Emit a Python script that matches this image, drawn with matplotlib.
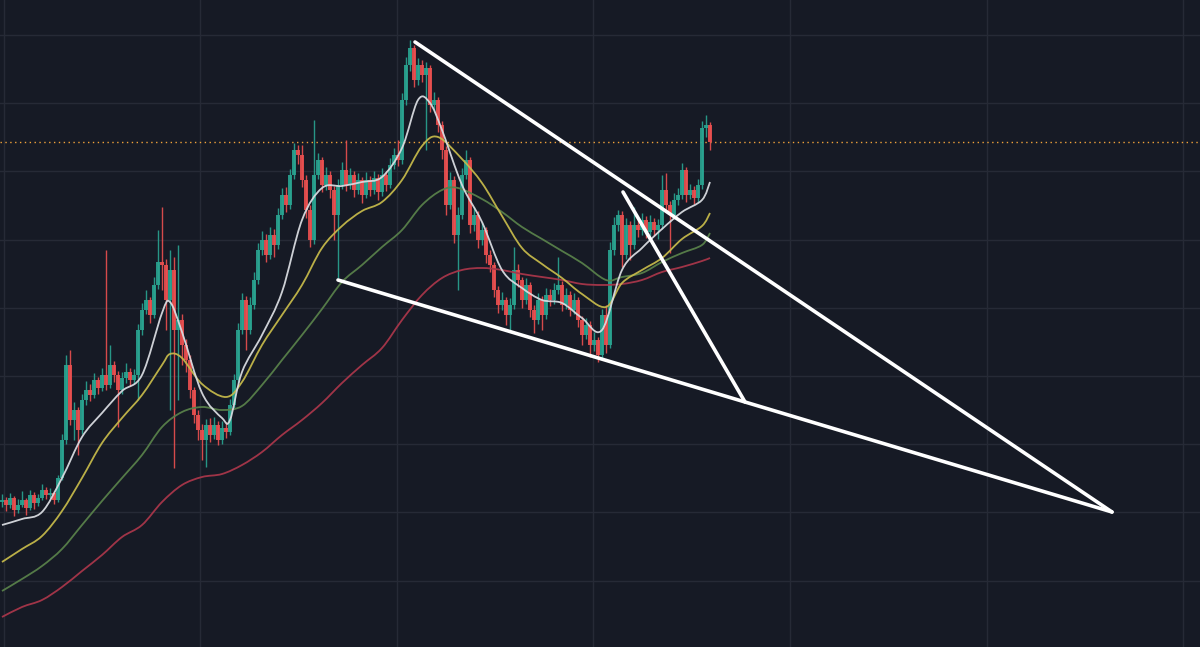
import numpy as np
import matplotlib
matplotlib.use("Agg")
import matplotlib.pyplot as plt
from matplotlib.path import Path
from matplotlib.patches import PathPatch

# ---- price data (one bar per session) ----
first_open = 14.5
closes = [
    14.7, 14.2, 14.9, 13.7, 14.2, 14.7, 13.9, 15.2, 14.4, 14.9,
    15.7, 15.2, 15.4, 14.7, 16.9, 20.7, 28.2, 22.7, 23.7, 21.7,
    24.7, 25.7, 25.2, 26.7, 25.9, 27.2, 26.2, 28.2, 27.2, 25.7,
    26.9, 27.5, 26.7, 27.2, 31.7, 33.7, 34.7, 33.2, 36.2, 38.5,
    38.2, 34.7, 37.7, 31.7, 32.7, 30.2, 28.7, 25.7, 23.2, 21.7,
    20.7, 22.2, 21.2, 22.2, 20.7, 21.9, 21.5, 24.2, 26.7, 31.7,
    34.7, 31.7, 34.2, 36.7, 39.7, 40.7, 39.2, 41.2, 40.2, 43.2,
    45.2, 44.2, 47.2, 49.7, 49.2, 46.7, 43.7, 40.7, 47.2, 48.7,
    46.2, 47.2, 45.7, 43.2, 46.2, 47.7, 46.2, 47.2, 45.7, 46.7,
    45.2, 46.7, 45.7, 46.9, 45.5, 47.2, 46.2, 48.2, 49.2, 48.7,
    54.7, 58.2, 59.9, 56.7, 58.2, 57.2, 57.9, 54.2, 54.7, 52.2,
    49.7, 44.2, 46.7, 41.2, 43.2, 47.2, 48.7, 42.2, 43.2, 40.7,
    41.7, 39.2, 38.2, 35.7, 34.2, 34.7, 33.2, 34.2, 37.7, 36.7,
    34.7, 36.2, 33.7, 32.7, 34.7, 33.2, 35.2, 34.7, 35.7, 36.2,
    34.2, 35.2, 33.7, 34.7, 32.7, 31.2, 32.2, 30.2, 30.7, 29.2,
    33.2, 30.2, 39.7, 42.2, 43.2, 39.2, 42.2, 40.2, 42.2, 41.7,
    42.7, 41.5, 42.5, 41.7, 42.2, 45.7, 44.2, 43.2, 44.7, 45.2,
    47.7, 45.2, 45.7, 44.9, 46.2, 51.9, 52.2, 50.5,
]
highs = [
    15.3, 15.0, 15.4, 15.1, 14.8, 15.6, 14.9, 15.7, 15.5, 15.3,
    16.3, 16.0, 15.9, 15.6, 17.2, 21.3, 29.2, 29.7, 24.5, 24.0,
    25.3, 26.6, 26.3, 27.4, 27.0, 27.9, 39.7, 30.2, 28.6, 27.6,
    27.5, 28.4, 27.9, 27.8, 32.3, 34.4, 35.7, 35.0, 37.0, 41.7,
    44.0, 38.8, 39.7, 39.0, 40.2, 33.3, 30.8, 29.2, 26.0, 23.7,
    22.3, 22.8, 22.9, 23.0, 22.6, 22.6, 22.5, 24.8, 27.3, 32.4,
    35.4, 35.1, 35.0, 37.5, 40.4, 41.6, 41.3, 42.0, 41.8, 43.9,
    45.9, 46.0, 47.8, 50.4, 50.2, 50.2, 47.2, 44.2, 52.7, 49.4,
    49.0, 48.0, 47.6, 46.1, 46.8, 48.5, 50.7, 47.9, 47.6, 47.4,
    47.0, 47.5, 47.1, 47.6, 47.3, 47.9, 47.6, 48.9, 49.9, 50.7,
    55.4, 59.0, 60.7, 60.2, 58.9, 58.7, 58.5, 58.2, 55.5, 55.0,
    52.6, 50.1, 47.5, 47.1, 44.0, 47.9, 49.7, 49.0, 44.0, 43.6,
    42.5, 42.0, 39.7, 38.5, 36.1, 35.5, 35.0, 34.9, 40.0, 38.3,
    37.0, 36.9, 36.5, 34.2, 35.4, 35.1, 35.9, 35.8, 36.4, 39.0,
    36.6, 35.9, 35.6, 35.4, 35.0, 33.1, 32.9, 32.6, 31.5, 31.0,
    33.8, 34.2, 40.5, 43.0, 43.7, 43.6, 42.9, 42.6, 44.0, 42.8,
    43.4, 43.1, 43.2, 42.9, 42.8, 47.2, 47.4, 44.6, 45.4, 45.9,
    48.4, 48.0, 46.3, 46.1, 46.8, 52.6, 53.2, 52.5,
]
lows = [
    14.0, 13.6, 13.9, 13.1, 13.4, 14.0, 13.2, 13.7, 13.8, 14.1,
    14.7, 14.8, 14.9, 14.3, 14.5, 16.7, 20.3, 22.2, 20.7, 19.2,
    21.3, 24.2, 24.6, 24.9, 25.3, 25.6, 25.7, 25.9, 26.5, 22.0,
    25.3, 26.4, 26.1, 26.3, 24.7, 31.2, 33.3, 32.4, 32.9, 35.8,
    35.7, 31.7, 23.7, 17.9, 24.7, 28.2, 27.5, 24.9, 22.4, 20.7,
    18.7, 18.0, 20.5, 20.8, 20.2, 20.3, 20.9, 21.2, 23.9, 26.4,
    31.3, 29.7, 31.3, 33.8, 36.3, 39.2, 38.5, 38.8, 39.0, 39.8,
    42.8, 43.5, 43.8, 46.8, 48.3, 46.0, 42.9, 40.0, 40.3, 46.8,
    45.5, 45.7, 44.9, 40.7, 36.9, 45.8, 45.6, 45.8, 45.0, 45.3,
    44.4, 44.9, 45.1, 45.3, 44.7, 45.1, 45.6, 45.9, 47.8, 48.1,
    48.3, 54.2, 57.6, 56.0, 56.2, 56.5, 49.7, 53.5, 53.6, 51.5,
    48.8, 43.2, 43.8, 40.4, 35.7, 42.8, 46.8, 41.4, 41.6, 39.9,
    40.2, 38.4, 37.5, 35.0, 33.4, 33.7, 32.2, 31.7, 33.8, 36.0,
    33.9, 34.3, 33.0, 31.4, 32.3, 31.7, 32.8, 34.1, 34.3, 35.3,
    33.6, 33.8, 33.1, 33.3, 32.0, 30.2, 30.8, 29.0, 29.6, 28.5,
    28.8, 29.4, 29.9, 39.2, 41.6, 38.0, 38.8, 38.7, 39.8, 41.0,
    41.2, 40.9, 41.0, 41.1, 40.8, 41.8, 43.6, 39.4, 42.8, 44.2,
    44.8, 44.5, 44.8, 44.3, 44.5, 45.8, 51.0, 49.7,
]
opens = [first_open] + closes[:-1]

# ---- moving averages (bar positions and values) ----
fast_bars = [0, 5, 10, 15, 20, 25, 30, 35, 40, 42, 45, 50, 55, 57, 60, 65, 70,
             75, 80, 85, 90, 95, 100, 104, 107, 110, 115, 120, 125, 130, 135,
             140, 145, 150, 155, 160, 165, 170, 175, 177]
ma_fast = [12.2, 12.8, 13.5, 16.9, 21.0, 23.4, 25.6, 27.2, 33.4, 34.5, 31.5,
           25.4, 22.9, 22.7, 27.5, 31.2, 35.5, 42.7, 45.9, 46.1, 46.5, 47.0,
           49.9, 54.7, 54.4, 51.7, 46.2, 42.5, 37.7, 35.9, 34.7, 34.4, 32.9,
           31.7, 37.7, 39.9, 41.8, 43.5, 44.7, 46.5]

mid_bars = [0, 5, 10, 15, 20, 25, 30, 35, 40, 42, 45, 50, 56, 60, 65, 70, 75,
            80, 85, 90, 95, 100, 105, 109, 115, 120, 125, 130, 135, 140, 145,
            151, 155, 160, 165, 170, 175, 177]
ma_mid = [8.5, 9.8, 11.1, 13.6, 16.9, 20.4, 22.9, 25.2, 28.2, 29.3, 28.9, 26.3,
          25.0, 26.5, 30.2, 33.2, 36.2, 39.9, 42.1, 43.6, 44.5, 46.7, 50.1, 51.0,
          48.8, 46.4, 43.1, 39.9, 38.3, 36.9, 35.3, 34.0, 36.4, 37.7, 38.9, 40.8,
          42.1, 43.4]

slow_bars = [0, 5, 10, 15, 20, 25, 30, 35, 40, 45, 50, 55, 60, 65, 70, 75, 80,
             85, 90, 95, 100, 105, 110, 114, 120, 125, 130, 135, 140, 145, 151,
             155, 160, 165, 170, 175, 177]
ma_slow = [5.6, 6.8, 8.1, 9.8, 12.2, 14.6, 16.9, 19.2, 22.0, 23.5, 24.0, 23.7,
           24.1, 26.2, 28.7, 31.2, 33.8, 36.5, 38.2, 40.0, 41.7, 44.2, 45.7, 45.9,
           44.8, 43.5, 42.0, 40.8, 39.6, 38.4, 36.7, 37.0, 37.4, 38.5, 39.4, 40.2,
           41.4]

long_bars = [0, 5, 10, 15, 20, 25, 30, 35, 40, 45, 50, 55, 60, 65, 70, 75, 80,
             85, 90, 95, 100, 105, 110, 115, 120, 125, 130, 135, 140, 145, 150,
             155, 160, 165, 170, 175, 177]
ma_long = [3.0, 4.0, 4.7, 6.0, 7.6, 9.2, 11.0, 12.2, 14.5, 16.2, 17.0, 17.3,
           18.2, 19.5, 21.2, 22.7, 24.4, 26.4, 28.2, 29.9, 32.7, 35.2, 36.9, 37.7,
           37.9, 37.7, 37.3, 37.0, 36.7, 36.3, 36.2, 36.3, 36.7, 37.5, 38.0, 38.6,
           38.9]

# ---- hand-drawn trendlines: (bar, price) endpoints ----
upper_line = [(103.25, 60.5), (277.5, 13.5)]
lower_line = [(84.0, 36.7), (277.5, 13.5)]
breakout_line = [(155.25, 45.5), (185.75, 24.5)]

BG = "#161a25"
GRID = "#262a36"
UP = "#2aa592"
DOWN = "#ec5050"


def smooth_line(ax, xs, ys, color, lw):
    """Draw a polyline as a smooth cubic Bezier curve passing through every point."""
    p = np.column_stack([xs, ys]).astype(float)
    verts = [p[0]]
    codes = [Path.MOVETO]
    n = len(p)
    for i in range(n - 1):
        p0 = p[i - 1] if i > 0 else p[i]
        p1, p2 = p[i], p[i + 1]
        p3 = p[i + 2] if i + 2 < n else p[i + 1]
        c1 = p1 + (p2 - p0) / 6.0
        c2 = p2 - (p3 - p1) / 6.0
        verts += [c1, c2, p2]
        codes += [Path.CURVE4] * 3
    ax.add_patch(PathPatch(Path(verts, codes), fill=False, edgecolor=color,
                           lw=lw, alpha=0.95, zorder=3))


fig = plt.figure(figsize=(12, 6.47), dpi=100, facecolor=BG)
ax = fig.add_axes([0, 0, 1, 1], facecolor=BG)
ax.set_xlim(-0.5, 299.5)
ax.set_ylim(0, 64.7)

# grid
for gx in np.arange(0.4, 300, 49.15):
    ax.axvline(gx, color=GRID, lw=1.0, zorder=0)
for gy in np.arange(6.64, 64.7, 6.82):
    ax.axhline(gy, color=GRID, lw=1.0, zorder=0)

# candles
idx = np.arange(len(closes))
o = np.array(opens)
c = np.array(closes)
h = np.array(highs)
l = np.array(lows)
colors = np.where(c >= o, UP, DOWN)
ax.vlines(idx, l, h, colors=colors, lw=1.0, alpha=0.9, zorder=2)
body_low = np.minimum(o, c)
body_h = np.maximum(np.abs(c - o), 0.15)
ax.bar(idx, body_h, bottom=body_low, width=0.78, color=colors, alpha=0.9,
       linewidth=0, zorder=2)

# moving averages
smooth_line(ax, long_bars, ma_long, "#a8364a", 1.3)
smooth_line(ax, slow_bars, ma_slow, "#58804a", 1.3)
smooth_line(ax, mid_bars, ma_mid, "#c4b84a", 1.3)
smooth_line(ax, fast_bars, ma_fast, "#d8dbe0", 1.3)

# last price line
ax.axhline(closes[-1], color="#f0a23a", lw=1.0, ls=(0, (1, 2.5)), zorder=1)

# trendlines
for seg in (upper_line, lower_line, breakout_line):
    xs, ys = zip(*seg)
    ax.plot(xs, ys, color="white", lw=2.6, solid_capstyle="round", zorder=4)

ax.set_axis_off()
fig.savefig("out.png", dpi=100, facecolor=BG)
